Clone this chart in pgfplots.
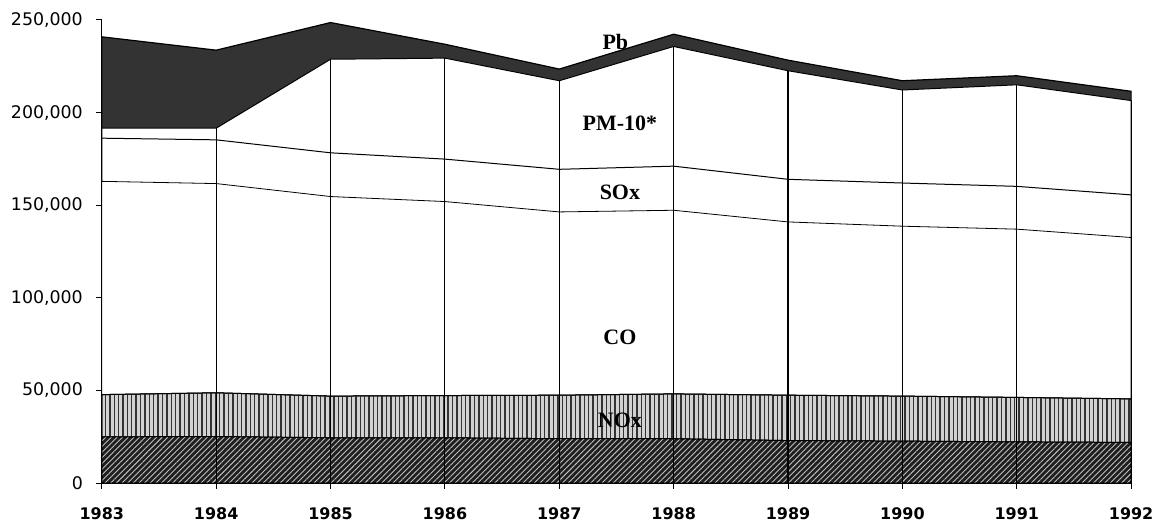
\documentclass[border=0pt]{standalone}
\usepackage{fontspec}
\setmainfont{DejaVu Sans}
\newfontfamily\lblfont{Liberation Serif}
\usepackage{pgfplots}
\pgfplotsset{compat=1.18}
\usepackage{pgfplotstable}
\usetikzlibrary{patterns.meta}

\pgfplotstableread{
year voc nox co sox pm pb
1983 25000 47800 162900 186200 191600 240900
1984 25200 48800 161700 185300 191600 233700
1985 24500 47000 154700 178300 228800 248600
1986 24500 47300 152000 174900 229400 236900
1987 24000 47500 146400 169400 217200 223500
1988 24000 48200 147300 171100 235700 242300
1989 23000 47500 141000 164000 222600 228300
1990 22700 47000 138700 162000 212200 217200
1991 22300 46300 137100 160200 215000 219900
1992 22000 45500 132600 155600 206500 211500
}\data

\begin{document}
\begin{tikzpicture}
\begin{axis}[name=ax, scale only axis, width=515.5pt, height=232pt,
  xmin=1983, xmax=1992, ymin=0, ymax=250000,
  scaled y ticks=false,
  axis lines=left, axis line style={-, line width=0.6pt},
  xtick={1983,1984,1985,1986,1987,1988,1989,1990,1991,1992},
  xticklabels={1983,1984,1985,1986,1987,1988,1989,1990,1991,1992},
  ytick={0,50000,100000,150000,200000,250000},
  yticklabels={0,{50,000},{100,000},{150,000},{200,000},{250,000}},
  tick align=outside, major tick length=3pt,
  tick style={black, line width=0.5pt},
  xticklabel style={font=\bfseries\fontsize{8}{10}\selectfont, yshift=-5.5pt},
  yticklabel style={font=\fontsize{8.7}{10}\selectfont, xshift=-3pt},
  clip=false]
\addplot[fill=black!80, draw=black, line width=0.6pt] table[x=year,y=pb]{\data} \closedcycle;
\addplot[fill=white, draw=black, line width=0.5pt] table[x=year,y=pm]{\data} \closedcycle;
\addplot[fill=white, draw=black, line width=0.5pt] table[x=year,y=sox]{\data} \closedcycle;
\addplot[fill=white, draw=black, line width=0.4pt] table[x=year,y=co]{\data} \closedcycle;
\addplot[fill=gray!35, draw=black, line width=0.5pt,
  postaction={pattern={Lines[angle=90,distance=2.2pt,line width=0.7pt]}, pattern color=black!80}]
  table[x=year,y=nox]{\data} \closedcycle;
\addplot[fill=black!88, draw=black, line width=0.5pt,
  postaction={pattern={Lines[angle=45,distance=2pt,line width=0.45pt]}, pattern color=gray!50}]
  table[x=year,y=voc]{\data} \closedcycle;
\addplot[ycomb, black, line width=0.55pt, mark=none] table[x=year,y=pm]{\data};
\node[font=\lblfont\bfseries\fontsize{11}{12}\selectfont] at (axis cs:1987.49,238000) {Pb};
\node[font=\lblfont\bfseries\fontsize{11}{12}\selectfont] at (axis cs:1987.53,194400) {PM-10*};
\node[font=\lblfont\bfseries\fontsize{11}{12}\selectfont] at (axis cs:1987.53,157000) {SOx};
\node[font=\lblfont\bfseries\fontsize{11}{12}\selectfont] at (axis cs:1987.53,78500) {CO};
\node[font=\lblfont\bfseries\fontsize{11}{12}\selectfont] at (axis cs:1987.53,33900) {NOx};
\end{axis}
\path (ax.north west) ++(-51pt,10pt);
\end{tikzpicture}
\end{document}
